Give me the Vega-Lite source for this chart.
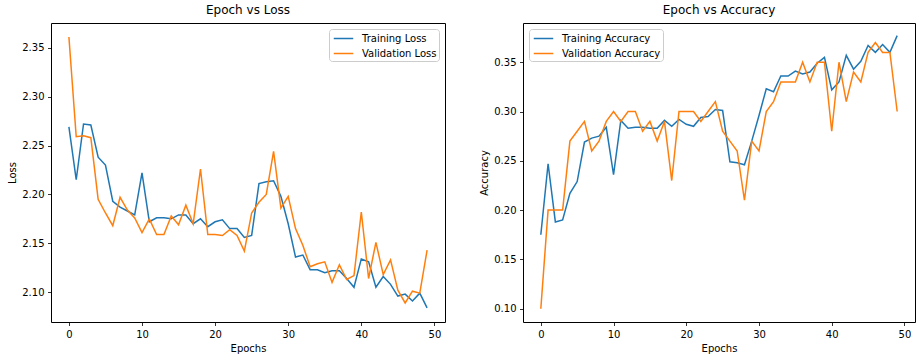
{
  "$schema": "https://vega.github.io/schema/vega-lite/v6.json",
  "padding": {"left": 7, "top": 3, "right": 7, "bottom": 5},
  "background": "white",
  "config": {
    "font": "DejaVu Sans",
    "view": {"stroke": "black", "strokeWidth": 1},
    "axis": {"domain": false, "grid": false, "tickColor": "black", "tickSize": 3.5, "tickWidth": 0.8, "labelFont": "DejaVu Sans", "labelFontSize": 10, "labelColor": "black", "labelPadding": 3.5, "titleFont": "DejaVu Sans", "titleFontSize": 10, "titleFontWeight": "normal", "titleColor": "black", "titlePadding": 4},
    "title": {"font": "DejaVu Sans", "fontSize": 12, "fontWeight": "normal", "color": "black", "anchor": "middle", "offset": 6},
    "legend": {"strokeColor": "#cccccc", "fillColor": "white", "padding": 2, "cornerRadius": 3, "symbolType": "M-1.5,0H1.5", "symbolStrokeWidth": 1.5, "symbolSize": 169, "symbolOffset": 5, "labelFont": "DejaVu Sans", "labelFontSize": 10, "labelColor": "black", "rowPadding": 2, "offset": 6, "labelOffset": 11}
  },
  "datasets": {
    "loss": [
      {"epoch":0,"series":"Training Loss","value":2.269},{"epoch":1,"series":"Training Loss","value":2.215},{"epoch":2,"series":"Training Loss","value":2.272},{"epoch":3,"series":"Training Loss","value":2.271},{"epoch":4,"series":"Training Loss","value":2.238},{"epoch":5,"series":"Training Loss","value":2.230},{"epoch":6,"series":"Training Loss","value":2.193},{"epoch":7,"series":"Training Loss","value":2.187},{"epoch":8,"series":"Training Loss","value":2.183},{"epoch":9,"series":"Training Loss","value":2.179},
      {"epoch":10,"series":"Training Loss","value":2.222},{"epoch":11,"series":"Training Loss","value":2.172},{"epoch":12,"series":"Training Loss","value":2.176},{"epoch":13,"series":"Training Loss","value":2.176},{"epoch":14,"series":"Training Loss","value":2.175},{"epoch":15,"series":"Training Loss","value":2.179},{"epoch":16,"series":"Training Loss","value":2.179},{"epoch":17,"series":"Training Loss","value":2.170},{"epoch":18,"series":"Training Loss","value":2.175},{"epoch":19,"series":"Training Loss","value":2.167},
      {"epoch":20,"series":"Training Loss","value":2.172},{"epoch":21,"series":"Training Loss","value":2.174},{"epoch":22,"series":"Training Loss","value":2.165},{"epoch":23,"series":"Training Loss","value":2.165},{"epoch":24,"series":"Training Loss","value":2.156},{"epoch":25,"series":"Training Loss","value":2.158},{"epoch":26,"series":"Training Loss","value":2.211},{"epoch":27,"series":"Training Loss","value":2.213},{"epoch":28,"series":"Training Loss","value":2.214},{"epoch":29,"series":"Training Loss","value":2.198},
      {"epoch":30,"series":"Training Loss","value":2.170},{"epoch":31,"series":"Training Loss","value":2.136},{"epoch":32,"series":"Training Loss","value":2.138},{"epoch":33,"series":"Training Loss","value":2.123},{"epoch":34,"series":"Training Loss","value":2.123},{"epoch":35,"series":"Training Loss","value":2.120},{"epoch":36,"series":"Training Loss","value":2.122},{"epoch":37,"series":"Training Loss","value":2.122},{"epoch":38,"series":"Training Loss","value":2.114},{"epoch":39,"series":"Training Loss","value":2.105},
      {"epoch":40,"series":"Training Loss","value":2.134},{"epoch":41,"series":"Training Loss","value":2.131},{"epoch":42,"series":"Training Loss","value":2.105},{"epoch":43,"series":"Training Loss","value":2.116},{"epoch":44,"series":"Training Loss","value":2.108},{"epoch":45,"series":"Training Loss","value":2.096},{"epoch":46,"series":"Training Loss","value":2.098},{"epoch":47,"series":"Training Loss","value":2.091},{"epoch":48,"series":"Training Loss","value":2.099},{"epoch":49,"series":"Training Loss","value":2.084},
      {"epoch":0,"series":"Validation Loss","value":2.361},{"epoch":1,"series":"Validation Loss","value":2.259},{"epoch":2,"series":"Validation Loss","value":2.260},{"epoch":3,"series":"Validation Loss","value":2.258},{"epoch":4,"series":"Validation Loss","value":2.195},{"epoch":5,"series":"Validation Loss","value":2.181},{"epoch":6,"series":"Validation Loss","value":2.168},{"epoch":7,"series":"Validation Loss","value":2.197},{"epoch":8,"series":"Validation Loss","value":2.184},{"epoch":9,"series":"Validation Loss","value":2.176},
      {"epoch":10,"series":"Validation Loss","value":2.161},{"epoch":11,"series":"Validation Loss","value":2.175},{"epoch":12,"series":"Validation Loss","value":2.159},{"epoch":13,"series":"Validation Loss","value":2.159},{"epoch":14,"series":"Validation Loss","value":2.178},{"epoch":15,"series":"Validation Loss","value":2.169},{"epoch":16,"series":"Validation Loss","value":2.189},{"epoch":17,"series":"Validation Loss","value":2.170},{"epoch":18,"series":"Validation Loss","value":2.226},{"epoch":19,"series":"Validation Loss","value":2.159},
      {"epoch":20,"series":"Validation Loss","value":2.159},{"epoch":21,"series":"Validation Loss","value":2.158},{"epoch":22,"series":"Validation Loss","value":2.164},{"epoch":23,"series":"Validation Loss","value":2.158},{"epoch":24,"series":"Validation Loss","value":2.142},{"epoch":25,"series":"Validation Loss","value":2.181},{"epoch":26,"series":"Validation Loss","value":2.192},{"epoch":27,"series":"Validation Loss","value":2.200},{"epoch":28,"series":"Validation Loss","value":2.244},{"epoch":29,"series":"Validation Loss","value":2.186},
      {"epoch":30,"series":"Validation Loss","value":2.198},{"epoch":31,"series":"Validation Loss","value":2.165},{"epoch":32,"series":"Validation Loss","value":2.148},{"epoch":33,"series":"Validation Loss","value":2.126},{"epoch":34,"series":"Validation Loss","value":2.129},{"epoch":35,"series":"Validation Loss","value":2.131},{"epoch":36,"series":"Validation Loss","value":2.110},{"epoch":37,"series":"Validation Loss","value":2.128},{"epoch":38,"series":"Validation Loss","value":2.113},{"epoch":39,"series":"Validation Loss","value":2.117},
      {"epoch":40,"series":"Validation Loss","value":2.182},{"epoch":41,"series":"Validation Loss","value":2.114},{"epoch":42,"series":"Validation Loss","value":2.151},{"epoch":43,"series":"Validation Loss","value":2.118},{"epoch":44,"series":"Validation Loss","value":2.133},{"epoch":45,"series":"Validation Loss","value":2.102},{"epoch":46,"series":"Validation Loss","value":2.089},{"epoch":47,"series":"Validation Loss","value":2.101},{"epoch":48,"series":"Validation Loss","value":2.099},{"epoch":49,"series":"Validation Loss","value":2.143}
    ],
    "acc": [
      {"epoch":0,"series":"Training Accuracy","value":0.175},{"epoch":1,"series":"Training Accuracy","value":0.247},{"epoch":2,"series":"Training Accuracy","value":0.188},{"epoch":3,"series":"Training Accuracy","value":0.190},{"epoch":4,"series":"Training Accuracy","value":0.217},{"epoch":5,"series":"Training Accuracy","value":0.229},{"epoch":6,"series":"Training Accuracy","value":0.269},{"epoch":7,"series":"Training Accuracy","value":0.273},{"epoch":8,"series":"Training Accuracy","value":0.275},{"epoch":9,"series":"Training Accuracy","value":0.284},
      {"epoch":10,"series":"Training Accuracy","value":0.236},{"epoch":11,"series":"Training Accuracy","value":0.291},{"epoch":12,"series":"Training Accuracy","value":0.283},{"epoch":13,"series":"Training Accuracy","value":0.284},{"epoch":14,"series":"Training Accuracy","value":0.284},{"epoch":15,"series":"Training Accuracy","value":0.283},{"epoch":16,"series":"Training Accuracy","value":0.283},{"epoch":17,"series":"Training Accuracy","value":0.291},{"epoch":18,"series":"Training Accuracy","value":0.285},{"epoch":19,"series":"Training Accuracy","value":0.292},
      {"epoch":20,"series":"Training Accuracy","value":0.287},{"epoch":21,"series":"Training Accuracy","value":0.285},{"epoch":22,"series":"Training Accuracy","value":0.294},{"epoch":23,"series":"Training Accuracy","value":0.295},{"epoch":24,"series":"Training Accuracy","value":0.302},{"epoch":25,"series":"Training Accuracy","value":0.301},{"epoch":26,"series":"Training Accuracy","value":0.249},{"epoch":27,"series":"Training Accuracy","value":0.248},{"epoch":28,"series":"Training Accuracy","value":0.246},{"epoch":29,"series":"Training Accuracy","value":0.270},
      {"epoch":30,"series":"Training Accuracy","value":0.296},{"epoch":31,"series":"Training Accuracy","value":0.323},{"epoch":32,"series":"Training Accuracy","value":0.320},{"epoch":33,"series":"Training Accuracy","value":0.336},{"epoch":34,"series":"Training Accuracy","value":0.336},{"epoch":35,"series":"Training Accuracy","value":0.341},{"epoch":36,"series":"Training Accuracy","value":0.338},{"epoch":37,"series":"Training Accuracy","value":0.340},{"epoch":38,"series":"Training Accuracy","value":0.349},{"epoch":39,"series":"Training Accuracy","value":0.355},
      {"epoch":40,"series":"Training Accuracy","value":0.322},{"epoch":41,"series":"Training Accuracy","value":0.330},{"epoch":42,"series":"Training Accuracy","value":0.357},{"epoch":43,"series":"Training Accuracy","value":0.343},{"epoch":44,"series":"Training Accuracy","value":0.351},{"epoch":45,"series":"Training Accuracy","value":0.367},{"epoch":46,"series":"Training Accuracy","value":0.360},{"epoch":47,"series":"Training Accuracy","value":0.368},{"epoch":48,"series":"Training Accuracy","value":0.360},{"epoch":49,"series":"Training Accuracy","value":0.377},
      {"epoch":0,"series":"Validation Accuracy","value":0.10},{"epoch":1,"series":"Validation Accuracy","value":0.20},{"epoch":2,"series":"Validation Accuracy","value":0.20},{"epoch":3,"series":"Validation Accuracy","value":0.20},{"epoch":4,"series":"Validation Accuracy","value":0.27},{"epoch":5,"series":"Validation Accuracy","value":0.28},{"epoch":6,"series":"Validation Accuracy","value":0.29},{"epoch":7,"series":"Validation Accuracy","value":0.26},{"epoch":8,"series":"Validation Accuracy","value":0.27},{"epoch":9,"series":"Validation Accuracy","value":0.29},
      {"epoch":10,"series":"Validation Accuracy","value":0.30},{"epoch":11,"series":"Validation Accuracy","value":0.29},{"epoch":12,"series":"Validation Accuracy","value":0.30},{"epoch":13,"series":"Validation Accuracy","value":0.30},{"epoch":14,"series":"Validation Accuracy","value":0.28},{"epoch":15,"series":"Validation Accuracy","value":0.29},{"epoch":16,"series":"Validation Accuracy","value":0.27},{"epoch":17,"series":"Validation Accuracy","value":0.29},{"epoch":18,"series":"Validation Accuracy","value":0.23},{"epoch":19,"series":"Validation Accuracy","value":0.30},
      {"epoch":20,"series":"Validation Accuracy","value":0.30},{"epoch":21,"series":"Validation Accuracy","value":0.30},{"epoch":22,"series":"Validation Accuracy","value":0.29},{"epoch":23,"series":"Validation Accuracy","value":0.30},{"epoch":24,"series":"Validation Accuracy","value":0.31},{"epoch":25,"series":"Validation Accuracy","value":0.28},{"epoch":26,"series":"Validation Accuracy","value":0.27},{"epoch":27,"series":"Validation Accuracy","value":0.26},{"epoch":28,"series":"Validation Accuracy","value":0.21},{"epoch":29,"series":"Validation Accuracy","value":0.27},
      {"epoch":30,"series":"Validation Accuracy","value":0.26},{"epoch":31,"series":"Validation Accuracy","value":0.30},{"epoch":32,"series":"Validation Accuracy","value":0.31},{"epoch":33,"series":"Validation Accuracy","value":0.33},{"epoch":34,"series":"Validation Accuracy","value":0.33},{"epoch":35,"series":"Validation Accuracy","value":0.33},{"epoch":36,"series":"Validation Accuracy","value":0.35},{"epoch":37,"series":"Validation Accuracy","value":0.33},{"epoch":38,"series":"Validation Accuracy","value":0.35},{"epoch":39,"series":"Validation Accuracy","value":0.35},
      {"epoch":40,"series":"Validation Accuracy","value":0.28},{"epoch":41,"series":"Validation Accuracy","value":0.35},{"epoch":42,"series":"Validation Accuracy","value":0.31},{"epoch":43,"series":"Validation Accuracy","value":0.34},{"epoch":44,"series":"Validation Accuracy","value":0.33},{"epoch":45,"series":"Validation Accuracy","value":0.36},{"epoch":46,"series":"Validation Accuracy","value":0.37},{"epoch":47,"series":"Validation Accuracy","value":0.36},{"epoch":48,"series":"Validation Accuracy","value":0.36},{"epoch":49,"series":"Validation Accuracy","value":0.30}
    ]
  },
  "spacing": 78,
  "bounds": "flush",
  "resolve": {"scale": {"color": "independent"}, "legend": {"color": "independent"}},
  "hconcat": [
    {
      "title": "Epoch vs Loss",
      "width": 394,
      "height": 299,
      "data": {"name": "loss"},
      "mark": {"type": "line", "strokeWidth": 1.5},
      "encoding": {
        "x": {"field": "epoch", "type": "quantitative", "scale": {"domain": [-2.45, 51.45], "nice": false, "zero": false}, "axis": {"values": [0, 10, 20, 30, 40, 50], "title": "Epochs"}},
        "y": {"field": "value", "type": "quantitative", "scale": {"domain": [2.0695, 2.3753], "nice": false, "zero": false}, "axis": {"values": [2.10, 2.15, 2.20, 2.25, 2.30, 2.35], "format": ".2f", "title": "Loss"}},
        "color": {"field": "series", "type": "nominal", "scale": {"domain": ["Training Loss", "Validation Loss"], "range": ["#1f77b4", "#ff7f0e"]}, "legend": {"orient": "top-right", "title": null}}
      }
    },
    {
      "title": "Epoch vs Accuracy",
      "width": 392,
      "height": 299,
      "data": {"name": "acc"},
      "mark": {"type": "line", "strokeWidth": 1.5},
      "encoding": {
        "x": {"field": "epoch", "type": "quantitative", "scale": {"domain": [-2.45, 51.45], "nice": false, "zero": false}, "axis": {"values": [0, 10, 20, 30, 40, 50], "title": "Epochs"}},
        "y": {"field": "value", "type": "quantitative", "scale": {"domain": [0.0865, 0.3898], "nice": false, "zero": false}, "axis": {"values": [0.10, 0.15, 0.20, 0.25, 0.30, 0.35], "format": ".2f", "title": "Accuracy"}},
        "color": {"field": "series", "type": "nominal", "scale": {"domain": ["Training Accuracy", "Validation Accuracy"], "range": ["#1f77b4", "#ff7f0e"]}, "legend": {"orient": "top-left", "title": null}}
      }
    }
  ]
}
